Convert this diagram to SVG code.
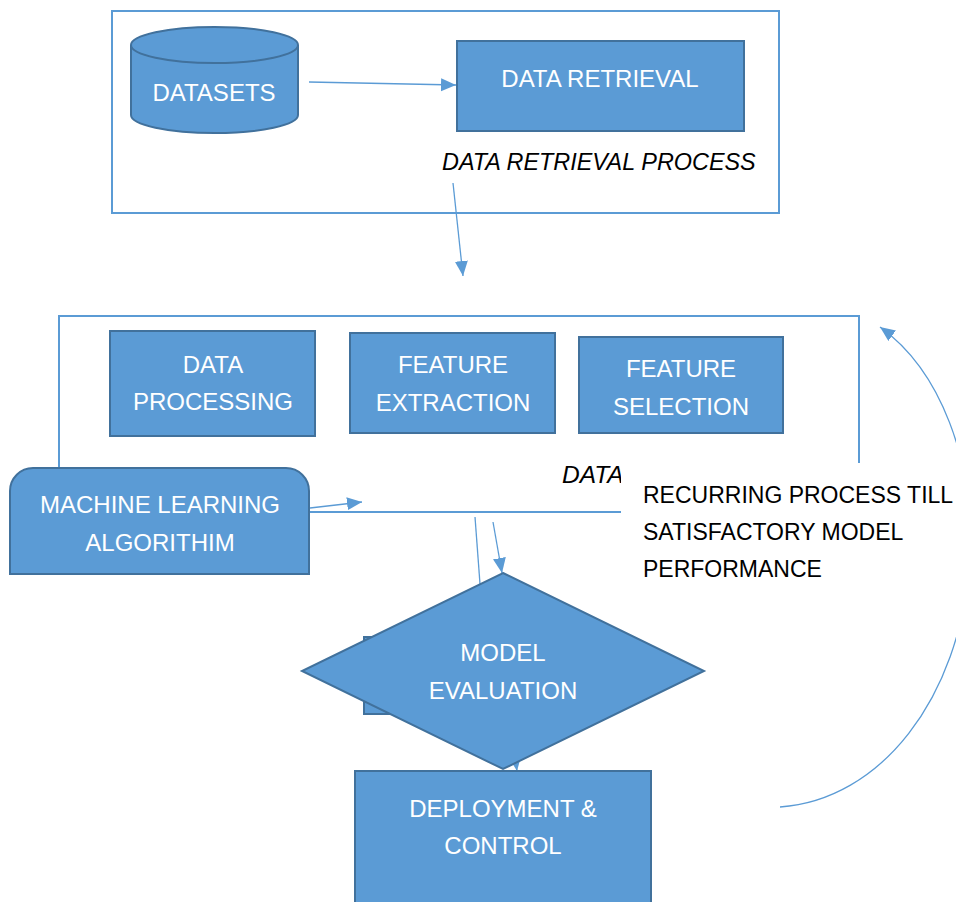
<svg xmlns="http://www.w3.org/2000/svg" width="956" height="902" viewBox="0 0 956 902">
  <style>
    .frame { fill: #ffffff; stroke: #5b9bd5; stroke-width: 2; }
    .node { fill: #5b9bd5; stroke: #41719c; stroke-width: 2; }
    .label { font-family: "Liberation Sans", Arial, sans-serif; font-size: 24px; fill: #ffffff; text-anchor: middle; }
    .note { font-family: "Liberation Sans", Arial, sans-serif; font-size: 23px; fill: #000000; }
    .italic { font-style: italic; font-size: 23.4px; }
    .wire { fill: none; stroke: #5b9bd5; stroke-width: 1.3; }
    .blank { fill: #ffffff; stroke: none; }
  </style>
  <defs>
    <marker id="arrow" markerUnits="userSpaceOnUse" markerWidth="16" markerHeight="14" refX="15" refY="6.5" orient="auto">
      <path d="M0,0 L15,6.5 L0,13 Z" fill="#5b9bd5"/>
    </marker>
  </defs>

  <rect width="956" height="902" fill="#ffffff"/>

  <!-- Retrieval stage frame -->
  <g id="retrieval-frame">
    <rect class="frame" x="112" y="11" width="667" height="202"/>
  </g>

  <g id="datasets">
    <path class="node" d="M131,45 L131,115 A83.5,18 0 0 0 298,115 L298,45"/>
    <ellipse class="node" cx="214.5" cy="45" rx="83.5" ry="18"/>
    <text class="label" x="214" y="101">DATASETS</text>
  </g>

  <g id="data-retrieval">
    <rect class="node" x="457" y="41" width="287" height="90"/>
    <rect class="blank" x="440" y="132" width="330" height="50"/>
    <text class="label" x="600" y="87">DATA RETRIEVAL</text>
  </g>

  <g id="retrieval-caption">
    <text class="note italic" x="442" y="170">DATA RETRIEVAL PROCESS</text>
  </g>

  <!-- Processing stage frame -->
  <g id="processing-frame">
    <rect class="frame" x="59" y="316" width="800" height="196"/>
  </g>

  <g id="data-processing">
    <rect class="node" x="110" y="331" width="205" height="105"/>
    <text class="label" x="213" y="373">DATA</text>
    <text class="label" x="213" y="410">PROCESSING</text>
  </g>

  <g id="feature-extraction">
    <rect class="node" x="350" y="333" width="205" height="100"/>
    <text class="label" x="453" y="373">FEATURE</text>
    <text class="label" x="453" y="411">EXTRACTION</text>
  </g>

  <g id="feature-selection">
    <rect class="node" x="579" y="337" width="204" height="96"/>
    <text class="label" x="681" y="377">FEATURE</text>
    <text class="label" x="681" y="415">SELECTION</text>
  </g>

  <g id="processing-caption">
    <text class="note italic" x="562" y="483" style="font-size:24.5px">DATA</text>
  </g>

  <!-- Loop note on a white text box -->
  <g id="loop-note">
    <rect class="blank" x="621" y="463" width="335" height="128"/>
    <text class="note" x="643" y="503">RECURRING PROCESS TILL</text>
    <text class="note" x="643" y="540">SATISFACTORY MODEL</text>
    <text class="note" x="643" y="577">PERFORMANCE</text>
  </g>

  <!-- Connectors -->
  <g id="connectors">
    <line class="wire" x1="309" y1="82" x2="456" y2="85" marker-end="url(#arrow)"/>
    <line class="wire" x1="453" y1="183" x2="463" y2="276" marker-end="url(#arrow)"/>
    <line class="wire" x1="310" y1="508" x2="362" y2="502" marker-end="url(#arrow)"/>
    <line x1="310" y1="512" x2="621" y2="512" stroke="#5b9bd5" stroke-width="2"/>
    <line class="wire" x1="475" y1="517" x2="480" y2="584"/>
    <line class="wire" x1="493" y1="522" x2="502" y2="573" marker-end="url(#arrow)"/>
    <line class="wire" x1="512" y1="735" x2="517" y2="771" marker-end="url(#arrow)"/>
    <path class="wire" d="M780,807 C880,800 960,700 970,560 C975,460 940,370 880,327" marker-end="url(#arrow)"/>
  </g>

  <g id="ml-algorithm">
    <path class="node" d="M10,574 L10,491 A23,23 0 0 1 33,468 L286,468 A23,23 0 0 1 309,491 L309,574 Z"/>
    <text class="label" x="160" y="513">MACHINE LEARNING</text>
    <text class="label" x="160" y="551">ALGORITHIM</text>
  </g>

  <g id="hidden-step">
    <rect class="node" x="364" y="637" width="230" height="77"/>
  </g>

  <g id="model-evaluation">
    <polygon class="node" points="503,573 704,671 503,769 302,671"/>
    <text class="label" x="503" y="661">MODEL</text>
    <text class="label" x="503" y="699">EVALUATION</text>
  </g>

  <g id="deployment">
    <rect class="node" x="355" y="771" width="296" height="140"/>
    <text class="label" x="503" y="817">DEPLOYMENT &amp;</text>
    <text class="label" x="503" y="854">CONTROL</text>
  </g>
</svg>
